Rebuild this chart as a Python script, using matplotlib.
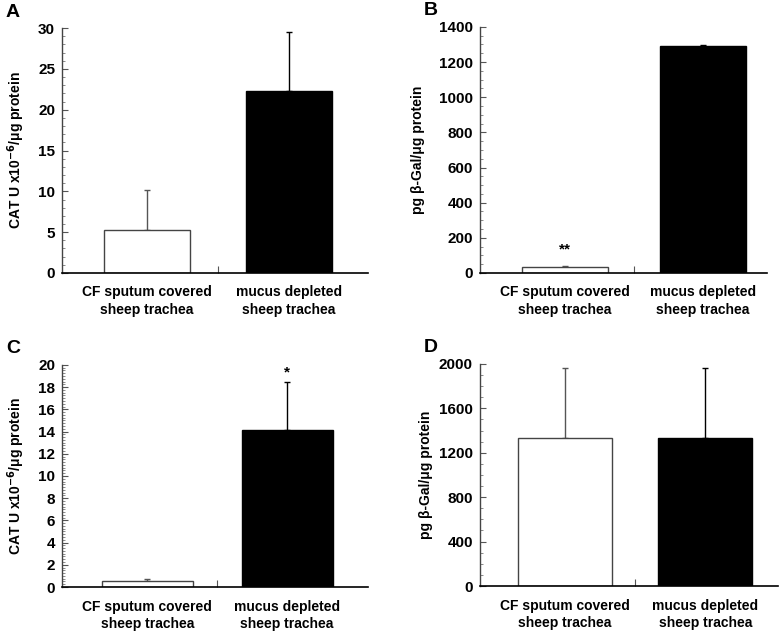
import matplotlib.pyplot as plt
from matplotlib.ticker import MultipleLocator, FixedLocator

plt.rcParams['font.family'] = ['Liberation Sans', 'DejaVu Sans']
plt.rcParams['font.weight'] = 'bold'

groups = ['CF sputum covered\nsheep trachea', 'mucus depleted\nsheep trachea']

# panel values (mean, upper error)
a_vals = [5.3, 22.3]
a_err = [4.9, 7.2]
b_vals = [33, 1290]
b_err = [9, 8]
c_vals = [0.5, 14.1]
c_err = [0.25, 4.4]
d_vals = [1330, 1335]
d_err = [630, 625]

ylab_cat = 'CAT U x10$^{\\mathbf{-6}}$/μg protein'
ylab_gal = 'pg β-Gal/μg protein'

fig = plt.figure(figsize=(7.79, 6.31), dpi=100)

panels = [
    # letter, rect, vals, err, ylim, major, minor, xlim, width, ylabel, label x, star
    ('A', [0.0796, 0.5674, 0.393, 0.388], a_vals, a_err, 30, 5, 1, (-0.60, 1.56), 0.61, ylab_cat, -0.114, None),
    ('B', [0.616, 0.5674, 0.368, 0.390], b_vals, b_err, 1400, 200, 50, (-0.614, 1.46), 0.62, ylab_gal, -0.19, (0, 131, '**')),
    ('C', [0.0796, 0.0697, 0.393, 0.352], c_vals, c_err, 20, 2, 0.25, (-0.61, 1.58), 0.65, ylab_cat, -0.114, (1, 19.3, '*')),
    ('D', [0.616, 0.0713, 0.383, 0.352], d_vals, d_err, 2000, 400, 100, (-0.605, 1.52), 0.67, ylab_gal, -0.158, None),
]

for letter, rect, vals, err, ytop, major, minor, xlim, width, ylabel, lx, star in panels:
    ax = fig.add_axes(rect)
    x = [0, 1]
    ax.bar(x, vals, width=width, color=['white', 'black'],
           edgecolor=['#444444', 'black'], linewidth=1.0, zorder=2)
    for xi, v, e, c in zip(x, vals, err, ['#555555', 'black']):
        ax.errorbar(xi, v, yerr=[[0], [e]], fmt='none', ecolor=c,
                    elinewidth=1.0, capsize=2, capthick=1.0, zorder=1)
    ax.set_xlim(*xlim)
    ax.set_ylim(0, ytop)
    ax.yaxis.set_major_locator(MultipleLocator(major))
    ax.yaxis.set_minor_locator(MultipleLocator(minor))
    ax.tick_params(axis='y', which='major', direction='in', length=4,
                   width=0.8, color='#555555', labelsize=11, pad=5)
    ax.tick_params(axis='y', which='minor', direction='in', length=2,
                   width=0.6, color='#777777')
    ax.set_xticks(x)
    ax.set_xticklabels(groups, fontsize=10, fontweight='bold', linespacing=1.35)
    ax.tick_params(axis='x', which='major', length=0, pad=9)
    ax.xaxis.set_minor_locator(FixedLocator([0.5]))
    ax.tick_params(axis='x', which='minor', direction='in', length=5,
                   width=0.8, color='#555555')
    for t in ax.get_yticklabels():
        t.set_fontweight('bold')
    ax.spines['top'].set_visible(False)
    ax.spines['right'].set_visible(False)
    ax.spines['left'].set_color('#444444')
    ax.spines['left'].set_linewidth(1.0)
    ax.spines['bottom'].set_color('black')
    ax.spines['bottom'].set_linewidth(1.2)
    ax.set_ylabel(ylabel, fontsize=10, fontweight='bold')
    ax.yaxis.set_label_coords(lx, 0.5)
    if star is not None:
        ax.text(star[0], star[1], star[2], ha='center', va='center',
                fontsize=11, fontweight='bold')
    fig.text(rect[0] - 0.072, rect[1] + rect[3] + 0.012, letter,
             fontsize=14, fontweight='bold', ha='left', va='bottom')

fig.savefig('out.png', dpi=100)
